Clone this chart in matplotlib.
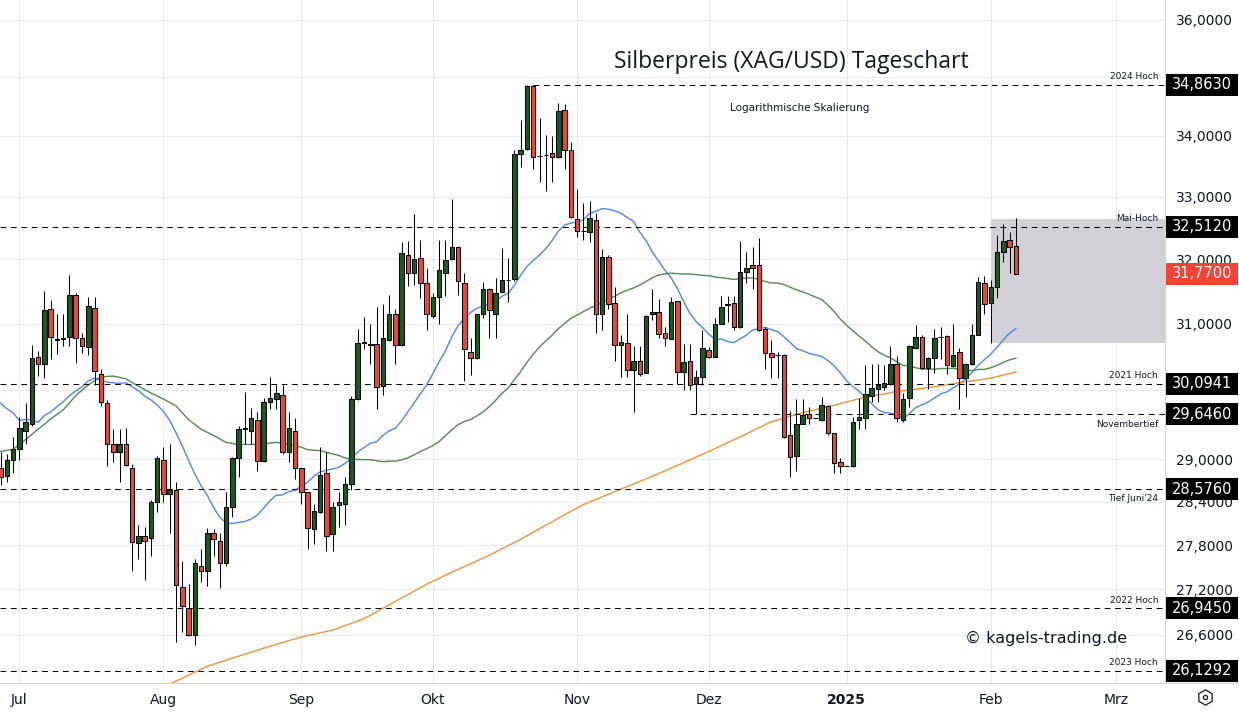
import numpy as np
import pandas as pd
import matplotlib
matplotlib.use("Agg")
import matplotlib.pyplot as plt
from matplotlib.patches import Rectangle
from matplotlib.lines import Line2D
from matplotlib.ticker import FixedLocator, FuncFormatter, NullLocator

# ---------------- data ----------------
dates = pd.bdate_range("2024-06-26", "2025-02-07")

opens = [28.88, 28.76, 28.99,
         29.15, 29.40, 29.50, 30.50, 30.39, 31.22, 30.76, 30.78, 30.80, 31.44,
         30.78, 30.64, 31.24, 30.24, 29.81, 29.22, 29.10, 29.22, 28.87, 27.83,
         27.93, 27.89, 28.39, 28.99, 28.51, 28.57, 27.23, 26.95, 26.59, 27.51,
         27.45, 27.96, 27.85, 27.56, 28.33, 29.01, 29.44, 29.41, 29.57, 28.97,
         29.83, 29.87, 29.93, 29.10, 29.41, 28.87, 28.53, 28.02, 28.26, 28.80,
         27.95, 28.35, 28.36, 28.65, 29.87, 30.72, 30.69, 30.69, 30.06, 30.75,
         31.15, 30.67, 32.07, 31.78, 32.02, 31.62, 31.11, 31.41, 31.78, 32.00,
         32.19, 31.62, 30.57, 30.48, 31.14, 31.53, 31.15, 31.49, 31.67, 31.69,
         33.70, 33.78, 34.85, 33.66, 33.68, 33.72, 33.65, 34.44, 33.77, 32.64,
         32.44, 32.43, 32.62, 31.15, 32.04, 31.31, 30.67, 30.70, 30.30, 30.44,
         30.26, 31.15, 31.18, 30.86, 30.77, 31.34, 30.27, 30.44, 30.09, 30.20,
         30.60, 30.50, 31.00, 31.29, 31.31, 30.95, 31.80, 31.91, 31.91, 30.92,
         30.55, 30.53, 30.53, 29.35, 29.04, 29.51, 29.65, 29.60, 29.56, 29.77,
         29.37, 28.96, 28.90, 28.90, 29.56, 29.60, 29.92, 30.02, 30.05, 30.09,
         30.39, 29.57, 29.89, 30.63, 30.80, 30.33, 30.48, 30.79, 30.81, 30.36,
         30.57, 30.18, 30.39, 30.83, 31.62, 31.31, 31.56, 32.12, 32.30, 32.20]
highs = [29.10, 29.07, 29.32,
         29.61, 29.81, 30.67, 30.59, 31.50, 31.36, 31.14, 31.15, 31.75, 31.47,
         30.86, 31.41, 31.41, 30.32, 29.86, 29.44, 29.43, 29.45, 28.93, 28.08,
         28.05, 28.42, 29.04, 29.17, 29.22, 28.68, 27.58, 27.27, 27.61, 27.74,
         28.04, 28.02, 27.97, 28.53, 29.03, 29.48, 29.98, 29.74, 29.68, 29.89,
         30.20, 30.08, 30.08, 29.68, 29.60, 28.88, 28.54, 28.36, 29.18, 29.10,
         28.39, 28.54, 28.74, 29.92, 30.92, 31.10, 30.99, 31.25, 31.30, 31.44,
         31.22, 32.27, 32.29, 32.72, 32.30, 31.86, 31.47, 32.30, 32.30, 32.96,
         32.20, 31.78, 30.78, 31.15, 31.64, 31.55, 31.70, 32.17, 32.02, 33.77,
         34.27, 34.86, 34.86, 34.30, 34.01, 34.00, 34.56, 34.54, 33.90, 33.12,
         32.90, 32.93, 32.73, 32.16, 32.07, 31.56, 30.83, 31.14, 30.66, 30.66,
         31.13, 31.53, 31.38, 30.95, 31.41, 31.35, 30.69, 30.69, 30.30, 30.90,
         30.64, 31.08, 31.42, 31.42, 31.42, 32.29, 32.12, 32.19, 32.33, 30.95,
         30.75, 30.57, 30.54, 29.70, 29.87, 29.87, 29.76, 29.60, 29.90, 29.78,
         29.38, 29.01, 28.90, 29.61, 29.89, 30.38, 30.39, 30.39, 30.38, 30.66,
         30.51, 29.96, 30.67, 30.98, 30.83, 30.49, 30.92, 30.95, 30.82, 31.00,
         30.63, 30.40, 30.99, 31.72, 31.73, 31.67, 32.38, 32.56, 32.43, 32.65]
lows = [28.64, 28.67, 28.81,
        28.99, 29.21, 29.47, 30.21, 30.18, 30.47, 30.54, 30.66, 30.66, 30.40,
        30.56, 30.53, 30.08, 29.77, 28.90, 28.96, 28.68, 28.90, 27.45, 27.61,
        27.33, 27.65, 28.26, 28.39, 27.97, 26.51, 26.63, 26.58, 26.47, 27.30,
        27.25, 27.65, 27.22, 27.51, 28.19, 28.75, 29.22, 29.22, 28.83, 28.96,
        29.73, 29.73, 29.07, 28.96, 28.72, 28.36, 27.74, 27.81, 28.24, 27.72,
        27.72, 28.05, 28.08, 28.57, 29.86, 30.61, 30.39, 29.73, 29.93, 30.74,
        30.39, 30.66, 31.58, 31.59, 31.39, 30.90, 31.08, 31.00, 31.42, 31.99,
        31.44, 30.14, 30.23, 30.47, 31.08, 30.78, 30.78, 31.48, 31.33, 31.65,
        33.48, 33.77, 33.45, 33.24, 33.09, 33.24, 33.64, 33.45, 32.66, 32.35,
        32.30, 32.27, 30.86, 30.90, 31.22, 30.44, 30.20, 30.20, 29.68, 30.21,
        30.25, 31.06, 30.78, 30.66, 30.76, 30.09, 30.01, 30.01, 29.65, 30.08,
        30.48, 30.49, 30.99, 31.02, 30.90, 30.94, 31.62, 31.53, 30.89, 30.32,
        30.18, 30.18, 29.31, 28.75, 28.83, 29.50, 29.51, 29.60, 29.55, 29.34,
        28.81, 28.81, 28.90, 28.89, 29.43, 29.44, 29.83, 29.83, 30.01, 30.08,
        29.54, 29.54, 29.76, 30.62, 30.32, 30.02, 30.26, 30.47, 30.24, 30.35,
        29.73, 29.90, 30.38, 30.82, 31.15, 30.70, 31.39, 31.96, 31.78, 31.76]
closes = [28.75, 28.99, 29.14,
          29.45, 29.53, 30.48, 30.39, 31.21, 30.80, 30.75, 30.77, 31.44, 30.78,
          30.66, 31.27, 30.29, 29.83, 29.21, 29.10, 29.22, 28.91, 27.84, 27.93,
          27.85, 28.40, 29.01, 28.51, 28.56, 27.26, 26.98, 26.59, 27.56, 27.45,
          27.96, 27.88, 27.56, 28.33, 29.01, 29.44, 29.45, 29.60, 28.97, 29.83,
          29.89, 29.96, 29.10, 29.45, 28.87, 28.53, 28.04, 28.27, 28.78, 27.93,
          28.32, 28.39, 28.65, 29.87, 30.70, 30.71, 30.68, 30.05, 30.78, 31.15,
          30.67, 32.10, 31.78, 32.00, 31.62, 31.14, 31.41, 31.83, 31.99, 32.19,
          31.65, 30.61, 30.48, 31.14, 31.53, 31.21, 31.47, 31.67, 31.68, 33.70,
          33.77, 34.85, 33.65, 33.67, 33.69, 33.65, 34.42, 33.77, 32.67, 32.44,
          32.45, 32.65, 31.15, 32.04, 31.30, 30.67, 30.72, 30.30, 30.44, 30.24,
          31.12, 31.18, 30.84, 30.78, 31.33, 30.27, 30.42, 30.08, 30.20, 30.63,
          30.50, 31.00, 31.25, 31.30, 30.95, 31.80, 31.86, 31.86, 30.90, 30.55,
          30.50, 30.52, 29.32, 29.03, 29.50, 29.64, 29.60, 29.60, 29.78, 29.37,
          28.94, 28.90, 28.90, 29.53, 29.61, 29.95, 30.04, 30.08, 30.11, 30.39,
          29.60, 29.87, 30.66, 30.80, 30.33, 30.48, 30.78, 30.80, 30.38, 30.53,
          30.18, 30.39, 30.83, 31.64, 31.30, 31.56, 32.12, 32.29, 32.19, 31.77]

# Moving averages. Blue = 20-day SMA, green = 50-day SMA of the closes above;
# for the first bars (history not on the chart) the values are read from the picture.
sma_fast_len = 20
sma_mid_len = 50
ma_fast_early = [29.81, 29.73, 29.67, 29.56, 29.57, 29.57, 29.53, 29.63, 29.68, 29.76,
                 29.83, 29.92, 29.99, 30.05, 30.14, 30.18, 30.15, 30.12, 30.11]
ma_mid_early = [29.11, 29.14, 29.28, 29.43, 29.58, 29.71, 29.92, 30.08, 30.20, 30.21,
                30.17, 30.06, 29.96, 29.87, 29.77, 29.57, 29.43, 29.34, 29.24, 29.21,
                29.21, 29.22, 29.24, 29.21, 29.17]   # every 2nd bar from the first
# 200-day SMA (weekly Monday samples + last bar)
ma_slow_dates = (["2024-07-29"]
                 + [d.strftime("%Y-%m-%d") for d in pd.date_range("2024-08-05", "2025-02-03", freq="W-MON")]
                 + ["2025-02-07"])
ma_slow = [25.80, 26.00, 26.19, 26.32, 26.45, 26.57, 26.66, 26.81, 27.04, 27.27,
           27.47, 27.66, 27.88, 28.12, 28.36, 28.54, 28.72, 28.91, 29.11, 29.32,
           29.54, 29.67, 29.78, 29.90, 29.98, 30.04, 30.11, 30.18, 30.27]

levels = [34.8630, 32.5120, 30.0941, 29.6460, 28.5760, 26.9450, 26.1292]
level_names = ["2024 Hoch", "Mai-Hoch", "2021 Hoch", "Novembertief",
               "Tief Juni'24", "2022 Hoch", "2023 Hoch"]
level_start = ["2024-10-23", None, None, "2024-11-27", None, None, None]
level_name_below = [False, False, False, True, True, False, False]
last_price = 31.7700

zone_start = "2025-02-03"
zone_low, zone_high = 30.70, 32.64

month_dates = ["2024-07-01", "2024-08-01", "2024-09-02", "2024-10-01", "2024-11-01",
               "2024-12-02", "2025-01-01", "2025-02-03", "2025-03-03"]
month_labels = ["Jul", "Aug", "Sep", "Okt", "Nov", "Dez", "2025", "Feb", "Mrz"]

yticks = [26.6, 27.2, 27.8, 28.4, 29.0, 30.0, 31.0, 32.0, 33.0, 34.0, 35.0, 36.0]
hidden_tick_labels = [30.0, 35.0]   # covered by the level boxes

# ---------------- styling ----------------
W, H = 1239, 715
GREEN = "#1b5a1f"
RED = "#f44336"
GRID = "#e8eaef"
TXT = "#131722"
plt.rcParams["font.family"] = ["DejaVu Sans"]

fig = plt.figure(figsize=(W / 100, H / 100), dpi=100)
ax_r = 1165 / W
ax_b = 1 - 683 / H
ax = fig.add_axes([0, ax_b, ax_r, 1 - ax_b])

full_days = pd.bdate_range("2024-06-26", "2025-03-31")
def xpos(d):
    return full_days.get_loc(pd.Timestamp(d))

n = len(dates)
pos = np.arange(n)
o = np.array(opens); h = np.array(highs); l = np.array(lows); c = np.array(closes)

XL, XR = -0.08, 185.8
ax.set_yscale("log")
ax.set_ylim(25.975, 36.352)
ax.set_xlim(XL, XR)

# axes / grid
def fmt(v, p=None):
    if any(abs(v - t) < 1e-9 for t in hidden_tick_labels):
        return ""
    return f"{v:.4f}".replace(".", ",")
ax.yaxis.set_major_locator(FixedLocator(yticks))
ax.yaxis.set_minor_locator(NullLocator())
ax.yaxis.set_major_formatter(FuncFormatter(fmt))
mpos = [xpos(d) for d in month_dates]
ax.xaxis.set_major_locator(FixedLocator(mpos))
ax.xaxis.set_minor_locator(NullLocator())
ax.set_xticklabels(month_labels)
for lab in ax.get_xticklabels():
    if lab.get_text() == "2025":
        lab.set_fontweight("bold")
ax.grid(True, color=GRID, lw=0.75, zorder=0)
ax.set_axisbelow(True)
ax.yaxis.tick_right()
ax.tick_params(axis="y", length=0, pad=8, labelsize=10, labelcolor=TXT)
ax.tick_params(axis="x", length=0, pad=7, labelsize=10, labelcolor=TXT)
for s in ["top", "left"]:
    ax.spines[s].set_visible(False)
for s in ["right", "bottom"]:
    ax.spines[s].set_color("#d1d4dc")
    ax.spines[s].set_linewidth(0.75)

# zone
zx = xpos(zone_start)
ax.add_patch(Rectangle((zx, zone_low), XR - zx, zone_high - zone_low,
                       facecolor="#d1d1d7", edgecolor="none", zorder=1))

# moving averages
close_s = pd.Series(c)
fast = close_s.rolling(sma_fast_len).mean().to_numpy()
mid = close_s.rolling(sma_mid_len).mean().to_numpy()
nf = len(ma_fast_early)
fast_x = np.concatenate([pos[:nf], pos[sma_fast_len - 1:]])
fast_y = np.concatenate([ma_fast_early, fast[sma_fast_len - 1:]])
mid_early_x = pos[0:2 * len(ma_mid_early):2]
mid_x = np.concatenate([mid_early_x, pos[sma_mid_len - 1:]])
mid_y = np.concatenate([ma_mid_early, mid[sma_mid_len - 1:]])
slow_x = [xpos(d) for d in ma_slow_dates]

ax.plot(fast_x, fast_y, color="#4d86f5", lw=1.0, zorder=2)
ax.plot(mid_x, mid_y, color="#3f7d3f", lw=1.0, zorder=2, alpha=0.9)
ax.plot(slow_x, ma_slow, color="#f7913a", lw=1.0, zorder=2)

# horizontal levels
for lv, nm, st, below in zip(levels, level_names, level_start, level_name_below):
    x0 = xpos(st) if st else XL
    ax.plot([x0, XR], [lv, lv], color="black", lw=0.75,
            linestyle=(0, (5.5, 4.5)), zorder=2.5)
    ax.annotate(nm, xy=(0.994, lv), xycoords=("axes fraction", "data"),
                xytext=(0, -7 if below else 6), textcoords="offset points",
                ha="right", va="center", fontsize=6.5, color=TXT, zorder=5)

# candles
up = c >= o
cols = np.where(up, GREEN, RED)
ax.vlines(pos, l, h, color="black", lw=0.75, zorder=3)
bot = np.minimum(o, c)
top = np.maximum(o, c)
ax.bar(pos, top - bot, bottom=bot, width=0.72, color=cols, edgecolor="black",
       linewidth=0.75, zorder=4)

# texts
fig.text(791 / W, 1 - 62 / H, "Silberpreis (XAG/USD) Tageschart", ha="center",
         va="center", fontsize=16.5, color=TXT, family="Open Sans")
fig.text(800 / W, 1 - 108 / H, "Logarithmische Skalierung", ha="center",
         va="center", fontsize=7.5, color=TXT)
fig.text(1046 / W, 1 - 638 / H, "\u00a9 kagels-trading.de", ha="center",
         va="center", fontsize=11.5, color=TXT)

# price boxes on right axis
fig.canvas.draw()
def fig_y(v):
    return ax.transData.transform((0, v))[1] / H

for lv in levels + [last_price]:
    fy = fig_y(lv)
    colr = RED if lv == last_price else "black"
    fig.add_artist(Rectangle((1166 / W, fy - 11 / H), 72 / W, 22 / H,
                             transform=fig.transFigure, facecolor=colr,
                             edgecolor="none", zorder=5))
    fig.text(1202 / W, fy, f"{lv:.4f}".replace(".", ","), ha="center", va="center",
             fontsize=10.5, color="white", zorder=6)

# bottom separator across right panel + settings icon
fig.add_artist(Line2D([ax_r, 1], [ax_b, ax_b], transform=fig.transFigure,
                      color="#d1d4dc", lw=0.75))
fig.add_artist(Line2D([1205 / W], [1 - 697 / H], transform=fig.transFigure,
                      marker="h", markersize=11, mfc="white", mec=TXT, mew=0.9,
                      linestyle="none"))
fig.add_artist(Line2D([1205 / W], [1 - 697 / H], transform=fig.transFigure,
                      marker="o", markersize=3, mfc="white", mec=TXT, mew=0.9,
                      linestyle="none"))

fig.savefig("out.png", dpi=100)
